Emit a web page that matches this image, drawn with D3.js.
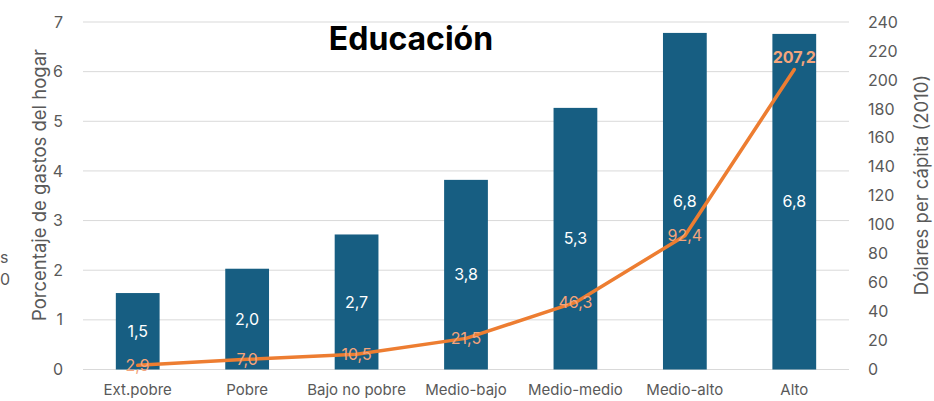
<!DOCTYPE html>
<html><head><meta charset="utf-8">
<script src="https://cdn.jsdelivr.net/npm/d3@7"></script>
<style>body{margin:0;background:#fff}svg{display:block}text{font-family:Inter,"Open Sans",sans-serif}</style>
</head><body>
<svg id="c" width="934" height="401"></svg>
<script>
const categories = ["Ext.pobre","Pobre","Bajo no pobre","Medio-bajo","Medio-medio","Medio-alto","Alto"];
const shareValues = [1.54, 2.03, 2.72, 3.82, 5.27, 6.78, 6.76];
const dollarValues = [2.9, 7.0, 10.5, 21.5, 46.3, 92.4, 207.2];
const leftTicks = [0,1,2,3,4,5,6,7];
const rightTicks = [0,20,40,60,80,100,120,140,160,180,200,220,240];

const svg = d3.select("#c");
const pLeft = 83, pRight = 849, pTop = 22, pBottom = 369.5;
const x = d3.scaleBand().domain(categories).range([pLeft, pRight]).paddingInner(0.6).paddingOuter(0.3);
const yL = d3.scaleLinear().domain([0,7]).range([pBottom, pTop]);
const yR = d3.scaleLinear().domain([0,240]).range([pBottom, pTop]);
const fmt = v => d3.format(".1f")(v).replace(".", ",");
const gray = "#595959";

// gridlines
svg.append("g").selectAll("line").data(leftTicks).join("line")
  .attr("x1", pLeft).attr("x2", pRight)
  .attr("y1", d => yL(d)).attr("y2", d => yL(d))
  .attr("stroke", "#d9d9d9").attr("stroke-width", 1);

// left axis
const axL = svg.append("g").attr("transform", `translate(${pLeft},0)`)
  .call(d3.axisLeft(yL).tickValues(leftTicks).tickSize(0).tickPadding(20).tickFormat(d3.format("d")));
axL.select(".domain").remove();
axL.selectAll("text").attr("fill", gray).attr("font-size", 16);

// right axis
const axR = svg.append("g").attr("transform", `translate(${pRight},0)`)
  .call(d3.axisRight(yR).tickValues(rightTicks).tickSize(0).tickPadding(19));
axR.select(".domain").remove();
axR.selectAll("text").attr("fill", gray).attr("font-size", 16);

// bars
svg.append("g").selectAll("rect").data(categories).join("rect")
  .attr("x", d => x(d)).attr("width", x.bandwidth())
  .attr("y", (d,i) => yL(shareValues[i]))
  .attr("height", (d,i) => yL(0) - yL(shareValues[i]))
  .attr("fill", "#175E82");

// bar labels
svg.append("g").selectAll("text").data(categories).join("text")
  .attr("x", d => x(d) + x.bandwidth()/2)
  .attr("y", (d,i) => (yL(0) + yL(shareValues[i]))/2)
  .attr("dy", "0.36em").attr("text-anchor", "middle")
  .attr("fill", "#fff").attr("font-size", 16)
  .text((d,i) => fmt(shareValues[i]));

// line
const line = d3.line().x((d,i) => x(categories[i]) + x.bandwidth()/2).y(d => yR(d));
svg.append("path").datum(dollarValues).attr("d", line)
  .attr("fill", "none").attr("stroke", "#ED7D31").attr("stroke-width", 3.5)
  .attr("stroke-linejoin", "round").attr("stroke-linecap", "round");

// line labels
svg.append("g").selectAll("text").data(dollarValues).join("text")
  .attr("x", (d,i) => x(categories[i]) + x.bandwidth()/2)
  .attr("y", (d,i) => i === dollarValues.length-1 ? yR(d) - 12 : yR(d))
  .attr("dy", "0.36em").attr("text-anchor", "middle")
  .attr("fill", "#F4A57C").attr("font-size", 16)
  .attr("font-weight", (d,i) => i === dollarValues.length-1 ? "bold" : "normal")
  .text(d => fmt(d));

// x axis labels
svg.append("g").selectAll("text").data(categories).join("text")
  .attr("x", d => x(d) + x.bandwidth()/2).attr("y", 390)
  .attr("dy", "0.36em").attr("text-anchor", "middle")
  .attr("fill", gray).attr("font-size", 15)
  .text(d => d);

// title
svg.append("text").attr("x", 411).attr("y", 50).attr("text-anchor", "middle")
  .attr("font-size", 32).attr("font-weight", "bold").attr("fill", "#000")
  .text("Educación");

// axis titles
svg.append("text").attr("transform", "translate(46,185) rotate(-90)")
  .attr("text-anchor", "middle").attr("fill", gray).attr("font-size", 18.5)
  .text("Porcentaje de gastos del hogar");
svg.append("text").attr("transform", "translate(928,185) rotate(-90)")
  .attr("text-anchor", "middle").attr("fill", gray).attr("font-size", 18.5)
  .text("Dólares per cápita (2010)");

// remnants at left edge
svg.append("text").attr("x", 0).attr("y", 263)
  .attr("fill", gray).attr("font-size", 16).text("s");
svg.append("text").attr("x", 0).attr("y", 285)
  .attr("fill", gray).attr("font-size", 16).text("0");
</script>
</body></html>
